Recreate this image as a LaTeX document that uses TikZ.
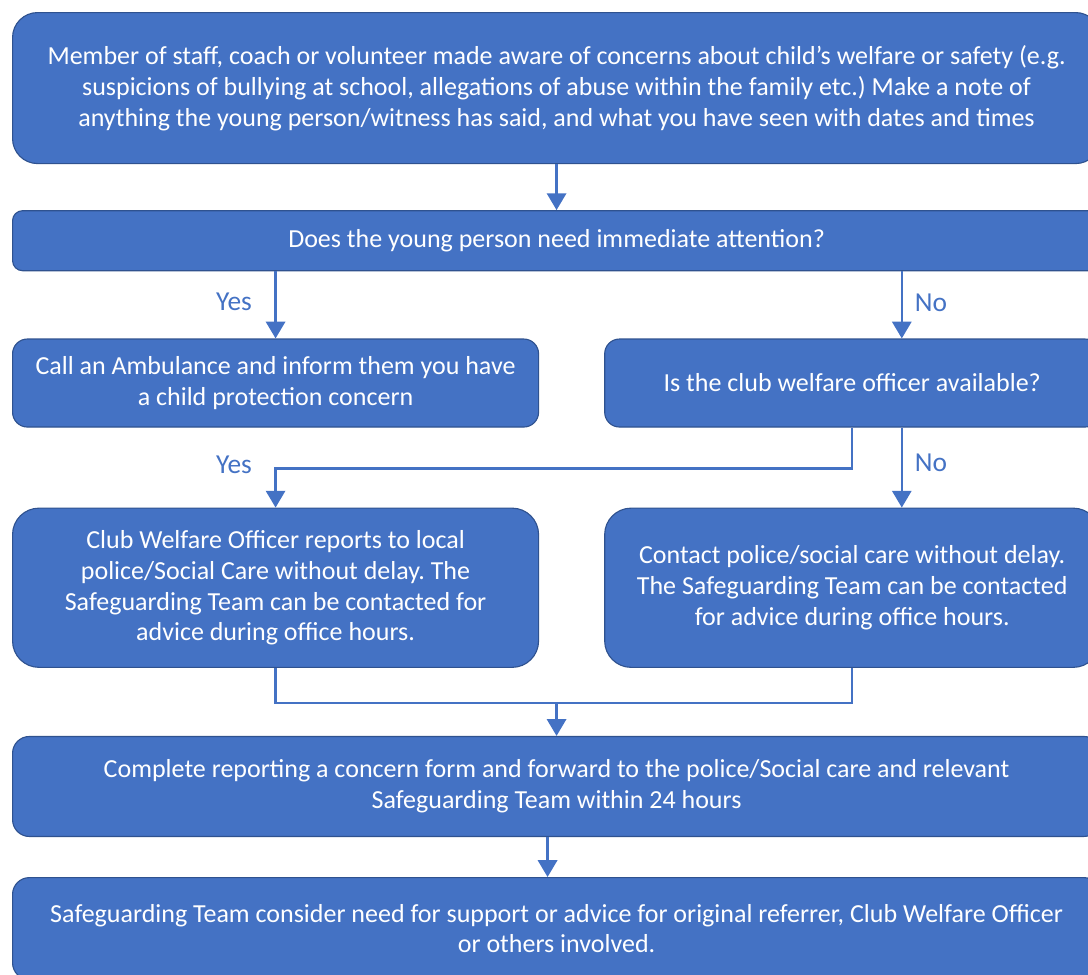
\documentclass[tikz,border=0pt]{standalone}
\usepackage{fontspec}
\setmainfont{Carlito}
\frenchspacing
\usetikzlibrary{positioning,arrows.meta}
\definecolor{boxfill}{HTML}{4472C4}
\definecolor{boxline}{HTML}{2F528F}
\tikzset{
	box/.style={draw=boxline, fill=boxfill, text=white, align=center, line width=0.8pt, inner sep=0pt, font=\fontsize{18.5}{22}\selectfont},
	wide box/.style={box, minimum width=27.2cm},
	left box/.style={box, minimum width=13.15cm},
	right box/.style={box, minimum width=12.375cm},
	flow/.style={draw=boxfill, line width=1.8pt, -{Triangle[width=0.48cm,length=0.42cm]}},
	plain/.style={draw=boxfill, line width=1.8pt},
	choice/.style={text=boxfill, font=\fontsize{19.5}{22}\selectfont}
}
\begin{document}
\begin{tikzpicture}
	\useasboundingbox (0,0) rectangle (27.2,-24.35);
	\clip (0,0) rectangle (27.2,-24.35);
	% boxes
	\node[wide box, minimum height=3.775cm, rounded corners=0.625cm, anchor=north west] (N1) at (0.3,-0.3) {Member of staff, coach or volunteer made aware of concerns about child’s welfare or safety (e.g.\\suspicions of bullying at school, allegations of abuse within the family etc.) Make a note of\\anything the young person/witness has said, and what you have seen with dates and times};
	\node[wide box, minimum height=1.5cm, rounded corners=0.25cm] (N2) [below=1.15cm of N1] {Does the young person need immediate attention?};
	\node[left box, minimum height=2.2cm, rounded corners=0.37cm] (N3) [below right=1.68cm and 0cm of N2.south west] {Call an Ambulance and inform them you have\\a child protection concern};
	\node[right box, minimum height=2.2cm, rounded corners=0.37cm] (N4) [right=1.625cm of N3] {Is the club welfare officer available?};
	\node[left box, minimum height=3.98cm, rounded corners=0.66cm] (N5) [below right=2.0cm and 0cm of N3.south west] {Club Welfare Officer reports to local\\police/Social Care without delay. The\\Safeguarding Team can be contacted for\\advice during office hours.};
	\node[right box, minimum height=3.98cm, rounded corners=0.66cm] (N6) [right=1.625cm of N5] {Contact police/social care without delay.\\The Safeguarding Team can be contacted\\for advice during office hours.};
	\node[wide box, minimum height=2.5cm, rounded corners=0.42cm] (N7) [below right=1.7cm and 0cm of N5.south west] {Complete reporting a concern form and forward to the police/Social care and relevant\\Safeguarding Team within 24 hours};
	\node[wide box, minimum height=2.55cm, rounded corners=0.42cm] (N8) [below=1.0cm of N7] {Safeguarding Team consider need for support or advice for original referrer, Club Welfare Officer\\or others involved.};
	% connectors
	\coordinate (n4in) at ([xshift=1.24cm]N4.north);
	\coordinate (n4out) at ([xshift=1.24cm]N4.south);
	\coordinate (merge) at ([yshift=-0.875cm]N5.south);
	\draw[flow] (N1) -- (N2);
	\draw[flow] (N2.south -| N3) -- (N3);
	\draw[flow] (N2.south -| n4in) -- (n4in);
	\draw[flow] (N4.south) -- ++(0,-1.025) -| (N5.north);
	\draw[flow] (n4out) -- (n4out |- N6.north);
	\draw[plain] (N5.south) -- (merge) -| (N6.south);
	\draw[flow] (merge -| N7.north) -- (N7.north);
	\draw[flow] ([xshift=-0.225cm]N7.south) -- ([xshift=-0.225cm]N8.north);
	% labels
	\node[choice] (yes1) at (5.85,-7.55) {Yes};
	\node[choice] (no1) at (23.275,-7.575) {No};
	\node[choice] (yes2) at (5.85,-11.625) {Yes};
	\node[choice] (no2) at (23.275,-11.575) {No};
\end{tikzpicture}
\end{document}
